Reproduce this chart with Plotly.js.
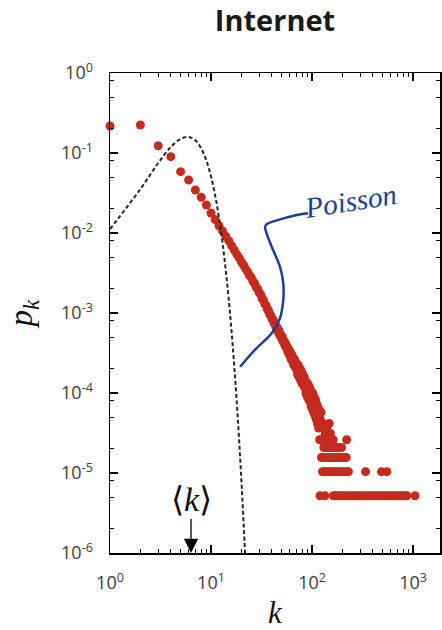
<!DOCTYPE html>
<html>
<head>
<meta charset="utf-8">
<script src="https://cdn.plot.ly/plotly-3.0.1.min.js"></script>
<style>
  html, body { margin: 0; padding: 0; background: #ffffff; }
  #chart { width: 442px; height: 630px; }
</style>
</head>
<body>
<div id="chart"></div>
<script>
// Internet degree distribution, p_k = N_k / N
const nodeCount = 192244;

// number of nodes with degree k = 1, 2, ..., 118
const headCounts = [
  41830, 43060, 23650, 17300, 11230, 8840, 6630, 5380, 4310, 3420,
  2830, 2370, 2040, 1745, 1530, 1330, 1180, 1040, 940, 835,
  765, 685, 632, 570, 535, 480, 450, 402, 383, 345,
  328, 292, 281, 250, 241, 216, 208, 187, 181, 163,
  160, 144, 143, 128, 127, 112, 117, 101, 104, 92,
  96, 83, 86, 75, 79, 69, 72, 62, 67, 57,
  62, 51, 58, 48, 53, 43, 51, 41, 46, 38,
  44, 33, 43, 31, 39, 29, 38, 27, 35, 25,
  33, 28, 24, 30, 22, 27, 19, 26, 21, 17,
  25, 19, 16, 23, 15, 21, 18, 13, 20, 16,
  12, 19, 14, 11, 17, 13, 10, 16, 12, 9,
  14, 11, 8, 13, 10, 7, 12, 9
];

// a few higher degrees that still hold several nodes
const sparseDegrees = [121, 123, 126, 129, 135, 140, 141, 146, 148, 152];
const sparseCounts  = [9, 11, 8, 7, 6, 7, 6, 6, 8, 6];

// high-degree tail: degrees held by exactly 1, 2, 3, 4 and 5 nodes
const degreesCount1 = [120, 134, 163, 171, 179, 188, 199, 209, 222, 235, 249, 262, 277, 293,
  310, 328, 346, 366, 387, 409, 432, 457, 481, 511, 540, 571, 604, 639, 675, 714, 755, 798,
  843, 867, 1047];
const degreesCount2 = [127, 132, 138, 144, 151, 158, 166, 174, 183, 192, 202, 213, 224, 229,
  339, 487, 550];
const degreesCount3 = [124, 130, 136, 142, 149, 156, 164, 173, 182, 191, 201, 211, 218];
const degreesCount4 = [131, 137, 143, 147, 153, 160, 168, 176, 185, 196];
const degreesCount5 = [119, 122, 125, 128, 133, 139, 145, 150, 155, 162, 220];

// Poisson prediction with the same average degree
const meanDegree = 6.34;
const poissonK = [1, 2, 3, 4, 5, 6, 7, 8, 9, 10, 11, 12, 13, 14, 15, 16, 17, 18, 19, 20, 21, 22];
const poissonP = [0.01118, 0.03545, 0.07493, 0.1188, 0.1506, 0.1591, 0.1441, 0.1142, 0.08044,
  0.0510, 0.0294, 0.01553, 0.00757, 0.00343, 0.00145, 5.745e-4, 2.143e-4, 7.548e-5,
  2.518e-5, 7.98e-6, 2.41e-6, 6.95e-7];

// axis ticks
const xTickVals = [1, 10, 100, 1000];
const xTickText = ['10<sup>0</sup>', '10<sup>1</sup>', '10<sup>2</sup>', '10<sup>3</sup>'];
const yTickVals = [1e-6, 1e-5, 1e-4, 1e-3, 1e-2, 1e-1, 1];
const yTickText = ['10<sup>-6</sup>', '10<sup>-5</sup>', '10<sup>-4</sup>', '10<sup>-3</sup>',
  '10<sup>-2</sup>', '10<sup>-1</sup>', '10<sup>0</sup>'];

// hand-drawn callout stroke, in plot-area fractions
const calloutX = [0.394, 0.439, 0.490, 0.515, 0.525, 0.525, 0.515, 0.490, 0.4745, 0.470, 0.480, 0.515, 0.566, 0.600];
const calloutY = [0.388, 0.423, 0.458, 0.489, 0.527, 0.562, 0.5965, 0.638, 0.666, 0.680, 0.687, 0.695, 0.704, 0.708];

// ---- assemble the measured points
const degK = [];
const degP = [];
headCounts.forEach((c, i) => { degK.push(i + 1); degP.push(c / nodeCount); });
sparseDegrees.forEach((k, i) => { degK.push(k); degP.push(sparseCounts[i] / nodeCount); });
[degreesCount1, degreesCount2, degreesCount3, degreesCount4, degreesCount5].forEach((ks, j) => {
  ks.forEach(k => { degK.push(k); degP.push((j + 1) / nodeCount); });
});

function minorTicks(lo, hi, mults) {
  const out = [];
  for (let e = lo; e < hi; e++) mults.forEach(m => out.push(m * Math.pow(10, e)));
  return out;
}

// smooth path through the callout points (Catmull-Rom -> cubic Bezier)
function smoothPath(xs, ys) {
  let d = 'M ' + xs[0] + ',' + ys[0];
  for (let i = 0; i < xs.length - 1; i++) {
    const x0 = xs[Math.max(i - 1, 0)], y0 = ys[Math.max(i - 1, 0)];
    const x1 = xs[i], y1 = ys[i];
    const x2 = xs[i + 1], y2 = ys[i + 1];
    const x3 = xs[Math.min(i + 2, xs.length - 1)], y3 = ys[Math.min(i + 2, ys.length - 1)];
    const c1x = x1 + (x2 - x0) / 6, c1y = y1 + (y2 - y0) / 6;
    const c2x = x2 - (x3 - x1) / 6, c2y = y2 - (y3 - y1) / 6;
    d += ' C ' + c1x.toFixed(4) + ',' + c1y.toFixed(4) + ' ' + c2x.toFixed(4) + ',' + c2y.toFixed(4) + ' ' + x2 + ',' + y2;
  }
  return d;
}

const tickFont = { family: 'Open Sans, Arial, sans-serif', size: 18, color: '#3c3c3c' };
const serif = 'Liberation Serif, Times New Roman, serif';
const inkBlue = '#1c3f98';

const traces = [
  {
    type: 'scatter', mode: 'markers',
    x: degK, y: degP,
    marker: { size: 9, color: '#c42b1f', line: { width: 0 } },
    cliponaxis: false,
    hoverinfo: 'skip'
  },
  {
    type: 'scatter', mode: 'lines',
    x: poissonK, y: poissonP,
    line: { color: '#262626', width: 2, dash: '4px,2.5px', shape: 'spline' },
    hoverinfo: 'skip'
  }
];

const axisCommon = {
  type: 'log',
  showline: true, linecolor: '#000', linewidth: 1.5, mirror: 'ticks',
  ticks: 'inside', ticklen: 8, tickwidth: 1.3, tickcolor: '#000',
  showgrid: false, zeroline: false,
  tickmode: 'array', tickfont: tickFont
};

const layout = {
  width: 442, height: 630,
  margin: { l: 110, r: 2, t: 73, b: 77 },
  paper_bgcolor: '#ffffff', plot_bgcolor: '#ffffff',
  showlegend: false, hovermode: false,
  title: {
    text: '<b>Internet</b>',
    font: { family: 'Open Sans, Arial, sans-serif', size: 29, color: '#1a1a1a' },
    x: 0.5, xref: 'paper', xanchor: 'center',
    y: 1 - 21 / 630, yref: 'container', yanchor: 'middle'
  },
  xaxis: Object.assign({}, axisCommon, {
    range: [0, 3.267],
    tickvals: xTickVals, ticktext: xTickText,
    ticklabelstandoff: 13,
    minor: { tickmode: 'array', tickvals: minorTicks(0, 4, [2, 3, 4, 5, 6, 7, 8, 9]),
      ticks: 'inside', ticklen: 4, tickwidth: 1, tickcolor: '#000', showgrid: false },
    title: { text: '<i>k</i>', font: { family: serif, size: 31, color: '#111' }, standoff: 8 }
  }),
  yaxis: Object.assign({}, axisCommon, {
    range: [-6, 0],
    tickvals: yTickVals, ticktext: yTickText,
    ticklabelstandoff: 12,
    minor: { tickmode: 'array', tickvals: minorTicks(-6, 0, [2, 5, 8]),
      ticks: 'inside', ticklen: 4, tickwidth: 1, tickcolor: '#000', showgrid: false },
    title: { text: '<i>p</i><sub><i>k</i></sub>', font: { family: serif, size: 33, color: '#111' }, standoff: 18 }
  }),
  annotations: [
    {
      x: Math.log10(meanDegree), y: -6, xref: 'x', yref: 'y',
      text: '\u27e8<i>k</i>\u27e9',
      font: { family: serif, size: 34, color: '#111' },
      showarrow: true, arrowhead: 2, arrowsize: 2.2, arrowwidth: 1.3, arrowcolor: '#000',
      ax: 0, ay: -54, standoff: 0
    },
    {
      x: 0.73, y: 0.733, xref: 'paper', yref: 'paper',
      xanchor: 'center', yanchor: 'middle',
      text: '<i>Poisson</i>',
      font: { family: serif, size: 29, color: inkBlue },
      textangle: -9, showarrow: false
    }
  ],
  shapes: [
    {
      type: 'path', xref: 'paper', yref: 'paper',
      path: smoothPath(calloutX, calloutY),
      line: { color: inkBlue, width: 2.5 }
    }
  ]
};

Plotly.newPlot('chart', traces, layout, { displayModeBar: false, staticPlot: true });
</script>
</body>
</html>
